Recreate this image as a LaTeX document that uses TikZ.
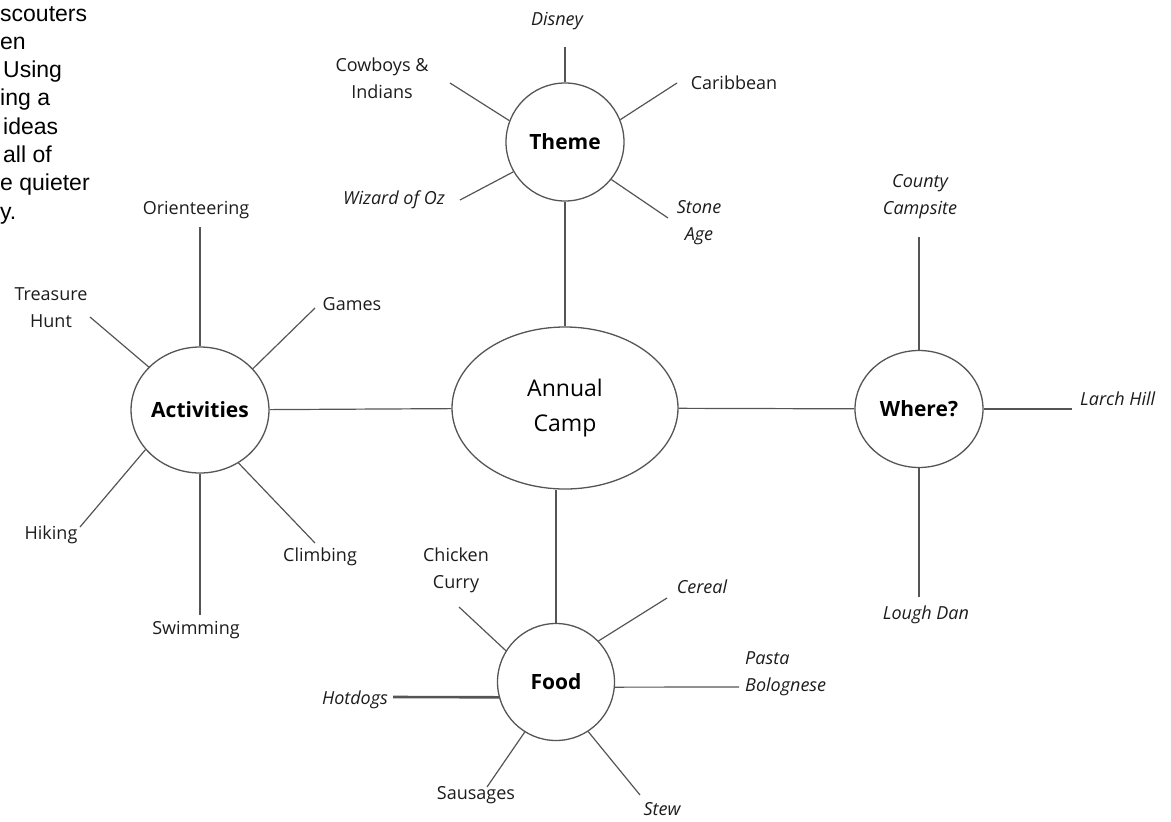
\documentclass[tikz,border=0pt]{standalone}
\usepackage{fontspec}
\setmainfont{Open Sans}
\newfontfamily\arialfont{Liberation Sans}
\usetikzlibrary{shapes.geometric}
\definecolor{linegray}{HTML}{555555}
\definecolor{inkgray}{HTML}{1C1C1C}
\begin{document}
\begin{tikzpicture}[x=1pt,y=-1pt,
  hub/.style={ellipse,draw=linegray,line width=1.3pt,inner sep=0pt,align=center,
    font=\fontsize{21}{30}\selectfont\bfseries,text=black,fill=white},
  leaf/.style={font=\fontsize{18}{27}\selectfont,text=inkgray,align=center,inner sep=0pt},
  leafit/.style={leaf,font=\fontsize{18}{27}\selectfont\itshape},
  spoke/.style={draw=linegray,line width=1.2pt},
  para/.style={font=\arialfont\fontsize{23}{28}\selectfont,anchor=base west,inner sep=0pt,text=black}]
\useasboundingbox (0,0) rectangle (1171,822);

% intro text (cut at the left edge)
\node[para] (p1) at (0,21) {scouters};
\node[para] (p2) at (0,49.3) {en};
\node[para] (p3) at (3,77.6) {Using};
\node[para] (p4) at (0,105.9) {ing a};
\node[para] (p5) at (3,134.2) {ideas};
\node[para] (p6) at (3,162.5) {all of};
\node[para] (p7) at (0,190.8) {e quieter};
\node[para] (p8) at (0,219.1) {y.};

% hubs
\node[hub,minimum width=226pt,minimum height=162pt,font=\fontsize{23}{35}\selectfont] (annual) at (565,408) {Annual\\Camp};
\node[hub,minimum size=118pt] (theme) at (565,142) {Theme};
\node[hub,minimum width=134pt,minimum height=126pt] (act) at (200,410) {Activities};
\node[hub,minimum width=128pt,minimum height=117pt] (where) at (919,409) {Where?};
\node[hub,minimum size=117pt] (food) at (556,682) {Food};

% main connectors
\draw[spoke] (theme.south) -- (theme.south |- annual.north);
\draw[spoke] (food.north) -- (food.north |- annual.south);
\draw[spoke] (act) -- (annual);
\draw[spoke] (annual) -- (where);

% Theme
\node[leafit] (disney) at (557,21) {Disney};
\node[leaf] (cowboys) at (382,78) {Cowboys \&\\Indians};
\node[leaf] (carib) at (734,83) {Caribbean};
\node[leafit] (wizard) at (394,200) {Wizard of Oz};
\node[leafit] (stone) at (699,223) {Stone\\Age};
\coordinate (eDisney) at (565,47);
\coordinate (eCowboys) at (450,83);
\coordinate (eCarib) at (677,83);
\coordinate (eWizard) at (460,200);
\coordinate (eStone) at (668,218);
\draw[spoke] (theme.north) -- (eDisney);
\draw[spoke] (theme.159) -- (eCowboys);
\draw[spoke] (theme.22) -- (eCarib);
\draw[spoke] (theme.210) -- (eWizard);
\draw[spoke] (theme.321) -- (eStone);

% Activities
\node[leaf] (orient) at (196,210) {Orienteering};
\node[leaf] (treasure) at (51,308) {Treasure\\Hunt};
\node[leaf] (games) at (352,304) {Games};
\node[leaf] (hiking) at (51,535) {Hiking};
\node[leaf] (swim) at (196,630) {Swimming};
\node[leaf] (climb) at (320,557) {Climbing};
\coordinate (eOrient) at (200,227);
\coordinate (eTreasure) at (90,317);
\coordinate (eGames) at (315,308);
\coordinate (eHiking) at (80,527);
\coordinate (eSwim) at (200,615);
\coordinate (eClimb) at (315,543);
\draw[spoke] (act.north) -- (eOrient);
\draw[spoke] (act.140) -- (eTreasure);
\draw[spoke] (act.38) -- (eGames);
\draw[spoke] (act.216) -- (eHiking);
\draw[spoke] (act.south) -- (eSwim);
\draw[spoke] (act.306) -- (eClimb);

% Where?
\node[leafit] (county) at (920,197) {County\\Campsite};
\node[leafit,anchor=west] (larch) at (1080,399) {Larch Hill};
\node[leafit] (lough) at (926,615) {Lough Dan};
\coordinate (eCounty) at (919,237);
\coordinate (eLarch) at (1072,409);
\coordinate (eLough) at (919,597);
\draw[spoke] (where.north) -- (eCounty);
\draw[spoke] (where.east) -- (eLarch);
\draw[spoke] (where.south) -- (eLough);

% Food
\node[leaf] (chicken) at (456,570) {Chicken\\Curry};
\node[leafit] (cereal) at (702,587) {Cereal};
\node[leafit,anchor=west,align=left] (pasta) at (745,674) {Pasta\\Bolognese};
\node[leafit] (hotdogs) at (355,700) {Hotdogs};
\node[leaf] (saus) at (476,795) {Sausages};
\node[leafit] (stew) at (662,809) {Stew};
\coordinate (eChicken) at (459,607);
\coordinate (eCereal) at (667,598);
\coordinate (ePasta) at (739,687);
\coordinate (eHot) at (393,697);
\coordinate (eSaus) at (487,787);
\coordinate (eStew) at (640,795);
\draw[spoke] (food.148) -- (eChicken);
\draw[spoke] (food.44) -- (eCereal);
\draw[spoke] (food.-5) -- (ePasta);
\draw[spoke,line width=2.6pt] (food.195) -- (eHot);
\draw[spoke] (food.238) -- (eSaus);
\draw[spoke] (food.303) -- (eStew);
\end{tikzpicture}
\end{document}
